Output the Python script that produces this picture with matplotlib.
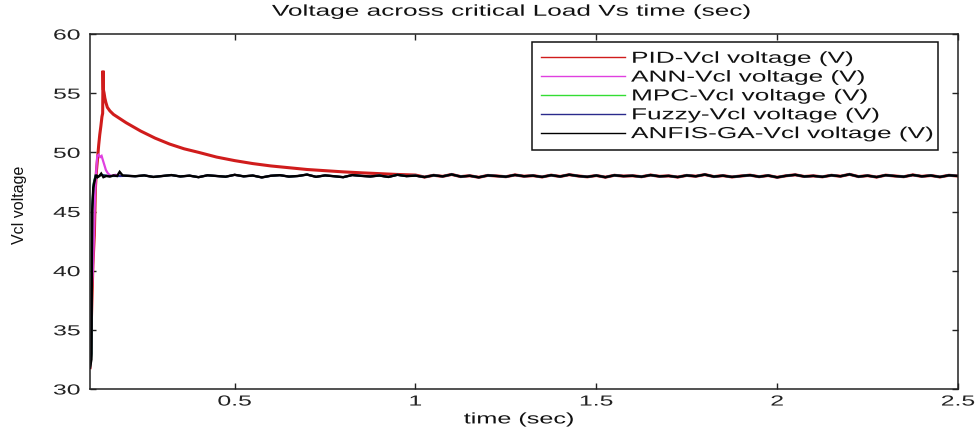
import matplotlib
matplotlib.use("Agg")
import matplotlib.pyplot as plt
from matplotlib.lines import Line2D
from matplotlib.patheffects import AbstractPathEffect
from matplotlib.transforms import Affine2D

# ---------------- data ----------------
series_names = ["PID-Vcl voltage (V)", "ANN-Vcl voltage (V)", "MPC-Vcl voltage (V)",
                "Fuzzy-Vcl voltage (V)", "ANFIS-GA-Vcl voltage (V)"]
series_colors = ["#d01c1c", "#e040e0", "#33dd33", "#2a2a8c", "#000000"]

# steady-state ripple shared by all controllers, sampled every 0.025 s from 0.2 s
steady_t0 = 0.2
steady_dt = 0.025
steady_v = [48.02, 47.98, 48.05, 47.92, 48.00, 48.08, 47.96, 48.03,
            47.90, 48.06, 48.00, 47.94, 48.10, 47.97, 48.04, 47.88, 48.02, 48.07,
            47.95, 48.00, 48.12, 47.93, 48.05, 47.98, 47.90, 48.08, 48.01, 47.96,
            48.04, 47.92, 48.10, 47.99, 48.03, 47.91, 48.06, 47.97, 48.13, 47.95,
            48.02, 47.89, 48.05, 48.00, 47.94, 48.09, 47.98, 48.03, 47.92, 48.07,
            47.96, 48.11, 48.00, 47.93, 48.04, 47.90, 48.06, 47.99, 48.02, 47.94,
            48.08, 47.97, 48.01, 47.91, 48.05, 47.98, 48.12, 47.95, 48.03, 47.92,
            48.00, 48.07, 47.94, 48.04, 47.89, 48.02, 48.10, 47.96, 48.01, 47.93,
            48.06, 47.98, 48.14, 47.95, 48.03, 47.91, 48.07, 48.00, 47.94, 48.09,
            47.97, 48.04, 47.92, 48.06, 48.00]

pid_t = [0.100, 0.104, 0.108, 0.112, 0.115, 0.118, 0.121, 0.124, 0.127, 0.130,
         0.133, 0.135, 0.136, 0.137, 0.139, 0.141, 0.144, 0.148, 0.155, 0.165,
         0.180, 0.200, 0.240, 0.280, 0.320, 0.360, 0.400, 0.450, 0.500, 0.550,
         0.600, 0.650, 0.700, 0.750, 0.800, 0.850, 0.900, 0.950, 1.000]
pid_v = [31.8, 36.0, 40.5, 43.0, 47.0, 48.5, 49.5, 50.6, 51.5, 52.2,
         53.0, 53.3, 56.9, 55.3, 55.0, 54.6, 54.2, 53.8, 53.5, 53.2,
         52.9, 52.5, 51.8, 51.2, 50.7, 50.3, 50.0, 49.6, 49.3, 49.05,
         48.85, 48.7, 48.55, 48.45, 48.35, 48.27, 48.2, 48.13, 48.08]

ann_t = [0.100, 0.104, 0.108, 0.111, 0.114, 0.117, 0.120, 0.124, 0.128, 0.132,
         0.136, 0.140, 0.144, 0.150, 0.158, 0.170, 0.185]
ann_v = [31.8, 38.0, 40.0, 43.0, 46.5, 48.3, 49.7, 49.8, 49.6, 49.7,
         49.3, 48.9, 48.5, 48.2, 48.0, 48.1, 48.0]

mpc_t = [0.100, 0.104, 0.106, 0.110, 0.115, 0.120, 0.130, 0.150, 0.185]
mpc_v = [31.8, 33.0, 45.3, 47.4, 48.0, 47.9, 48.1, 48.0, 48.0]

fuzzy_t = [0.100, 0.104, 0.106, 0.110, 0.115, 0.120, 0.130, 0.150, 0.185]
fuzzy_v = [31.8, 33.0, 45.2, 47.3, 48.0, 47.9, 48.1, 48.0, 48.0]

anfis_t = [0.100, 0.104, 0.106, 0.109, 0.113, 0.117, 0.121, 0.126, 0.131, 0.137,
           0.145, 0.155, 0.165, 0.175, 0.182, 0.190]
anfis_v = [31.8, 32.5, 45.0, 47.0, 47.6, 48.1, 47.9, 48.0, 48.2, 47.9,
           48.0, 47.95, 48.05, 48.0, 48.35, 48.05]

x_ticks = [0.5, 1, 1.5, 2, 2.5]
x_tick_labels = ["0.5", "1", "1.5", "2", "2.5"]
y_ticks = [30, 35, 40, 45, 50, 55, 60]
y_tick_labels = ["30", "35", "40", "45", "50", "55", "60"]

title_text = "Voltage across critical Load Vs time (sec)"
xlabel_text = "time (sec)"
ylabel_text = "Vcl voltage"

# ---------------- helpers ----------------
steady_t = [steady_t0 + steady_dt * i for i in range(len(steady_v))]


def full_series(tt, vv):
    last = tt[-1]
    t_out = list(tt) + [t for t in steady_t if t > last + 1e-9]
    v_out = list(vv) + [v for t, v in zip(steady_t, steady_v) if t > last + 1e-9]
    return t_out, v_out


class HStretch(AbstractPathEffect):
    """Draw text stretched horizontally (the reference image is widened)."""

    def __init__(self, sx, anchor=0.0):
        super().__init__()
        self.sx = sx
        self.anchor = anchor

    def draw_path(self, renderer, gc, tpath, affine, rgbFace=None):
        try:
            ext = tpath.get_extents()
            xa = ext.x0 + (ext.x1 - ext.x0) * self.anchor if self.anchor else 0.0
        except Exception:
            xa = 0.0
        t = Affine2D().translate(-xa, 0).scale(self.sx, 1.0).translate(xa, 0)
        renderer.draw_path(gc, tpath, t + affine, rgbFace)


# ---------------- figure ----------------
plt.rcParams["font.family"] = ["Liberation Sans", "DejaVu Sans"]

fig = plt.figure(figsize=(9.78, 4.29), dpi=100)
ax = fig.add_axes([90 / 978, 1 - 389 / 429, (958 - 90) / 978, (389 - 34) / 429])

data = [(pid_t, pid_v, 2.2), (ann_t, ann_v, 1.6), (mpc_t, mpc_v, 1.5),
        (fuzzy_t, fuzzy_v, 1.5), (anfis_t, anfis_v, 1.7)]
for (tt, vv, lw), col in zip(data, series_colors):
    t_full, v_full = full_series(tt, vv)
    ax.plot(t_full, v_full, color=col, lw=lw, solid_joinstyle="miter")

ax.set_xlim(0.1, 2.5)
ax.set_ylim(30, 60)
ax.set_xticks(x_ticks)
ax.set_xticklabels(x_tick_labels)
ax.set_yticks(y_ticks)
ax.set_yticklabels(y_tick_labels)

for s in ax.spines.values():
    s.set_linewidth(1.1)
    s.set_color("#222222")

ax.tick_params(direction="in", length=4.5, width=1.0, top=True, right=True,
               labelsize=10.5, colors="#222222")
ax.tick_params(axis="x", pad=4)
ax.tick_params(axis="y", pad=7)

for tk in ax.xaxis.get_major_ticks():
    tk.label1.set_path_effects([HStretch(1.7, 0.5)])
for tk in ax.yaxis.get_major_ticks():
    tk.label1.set_path_effects([HStretch(1.7, 1.0)])

title = ax.set_title(title_text, fontsize=11.3, color="#111111", y=1.028, va="baseline")
title.set_path_effects([HStretch(1.67, 0.5)])
title.set_x(0.486)

xl = ax.set_xlabel(xlabel_text, fontsize=11, color="#111111")
ax.xaxis.set_label_coords(0.494, -0.066)
xl.set_path_effects([HStretch(1.65, 0.5)])

ax.set_ylabel(ylabel_text, fontsize=11.5, color="#111111")
ax.yaxis.set_label_coords(-0.073, 0.52)

handles = [Line2D([0], [0], color=c, lw=1.0) for c in series_colors]
leg = ax.legend(handles, series_names, loc="upper left",
                bbox_to_anchor=(532 / 978, 1 - 146 / 429, (938 - 532) / 978, (146 - 42) / 429),
                bbox_transform=fig.transFigure, mode="expand", borderaxespad=0,
                fontsize=11.5, labelspacing=0.24, handlelength=5.3, handletextpad=0.35,
                borderpad=0.55, fancybox=False, framealpha=1, edgecolor="#111111")
leg.get_frame().set_linewidth(1.1)
for txt in leg.get_texts():
    txt.set_path_effects([HStretch(1.64, 0.0)])
    txt.set_color("#111111")

fig.savefig("out.png", dpi=100)
